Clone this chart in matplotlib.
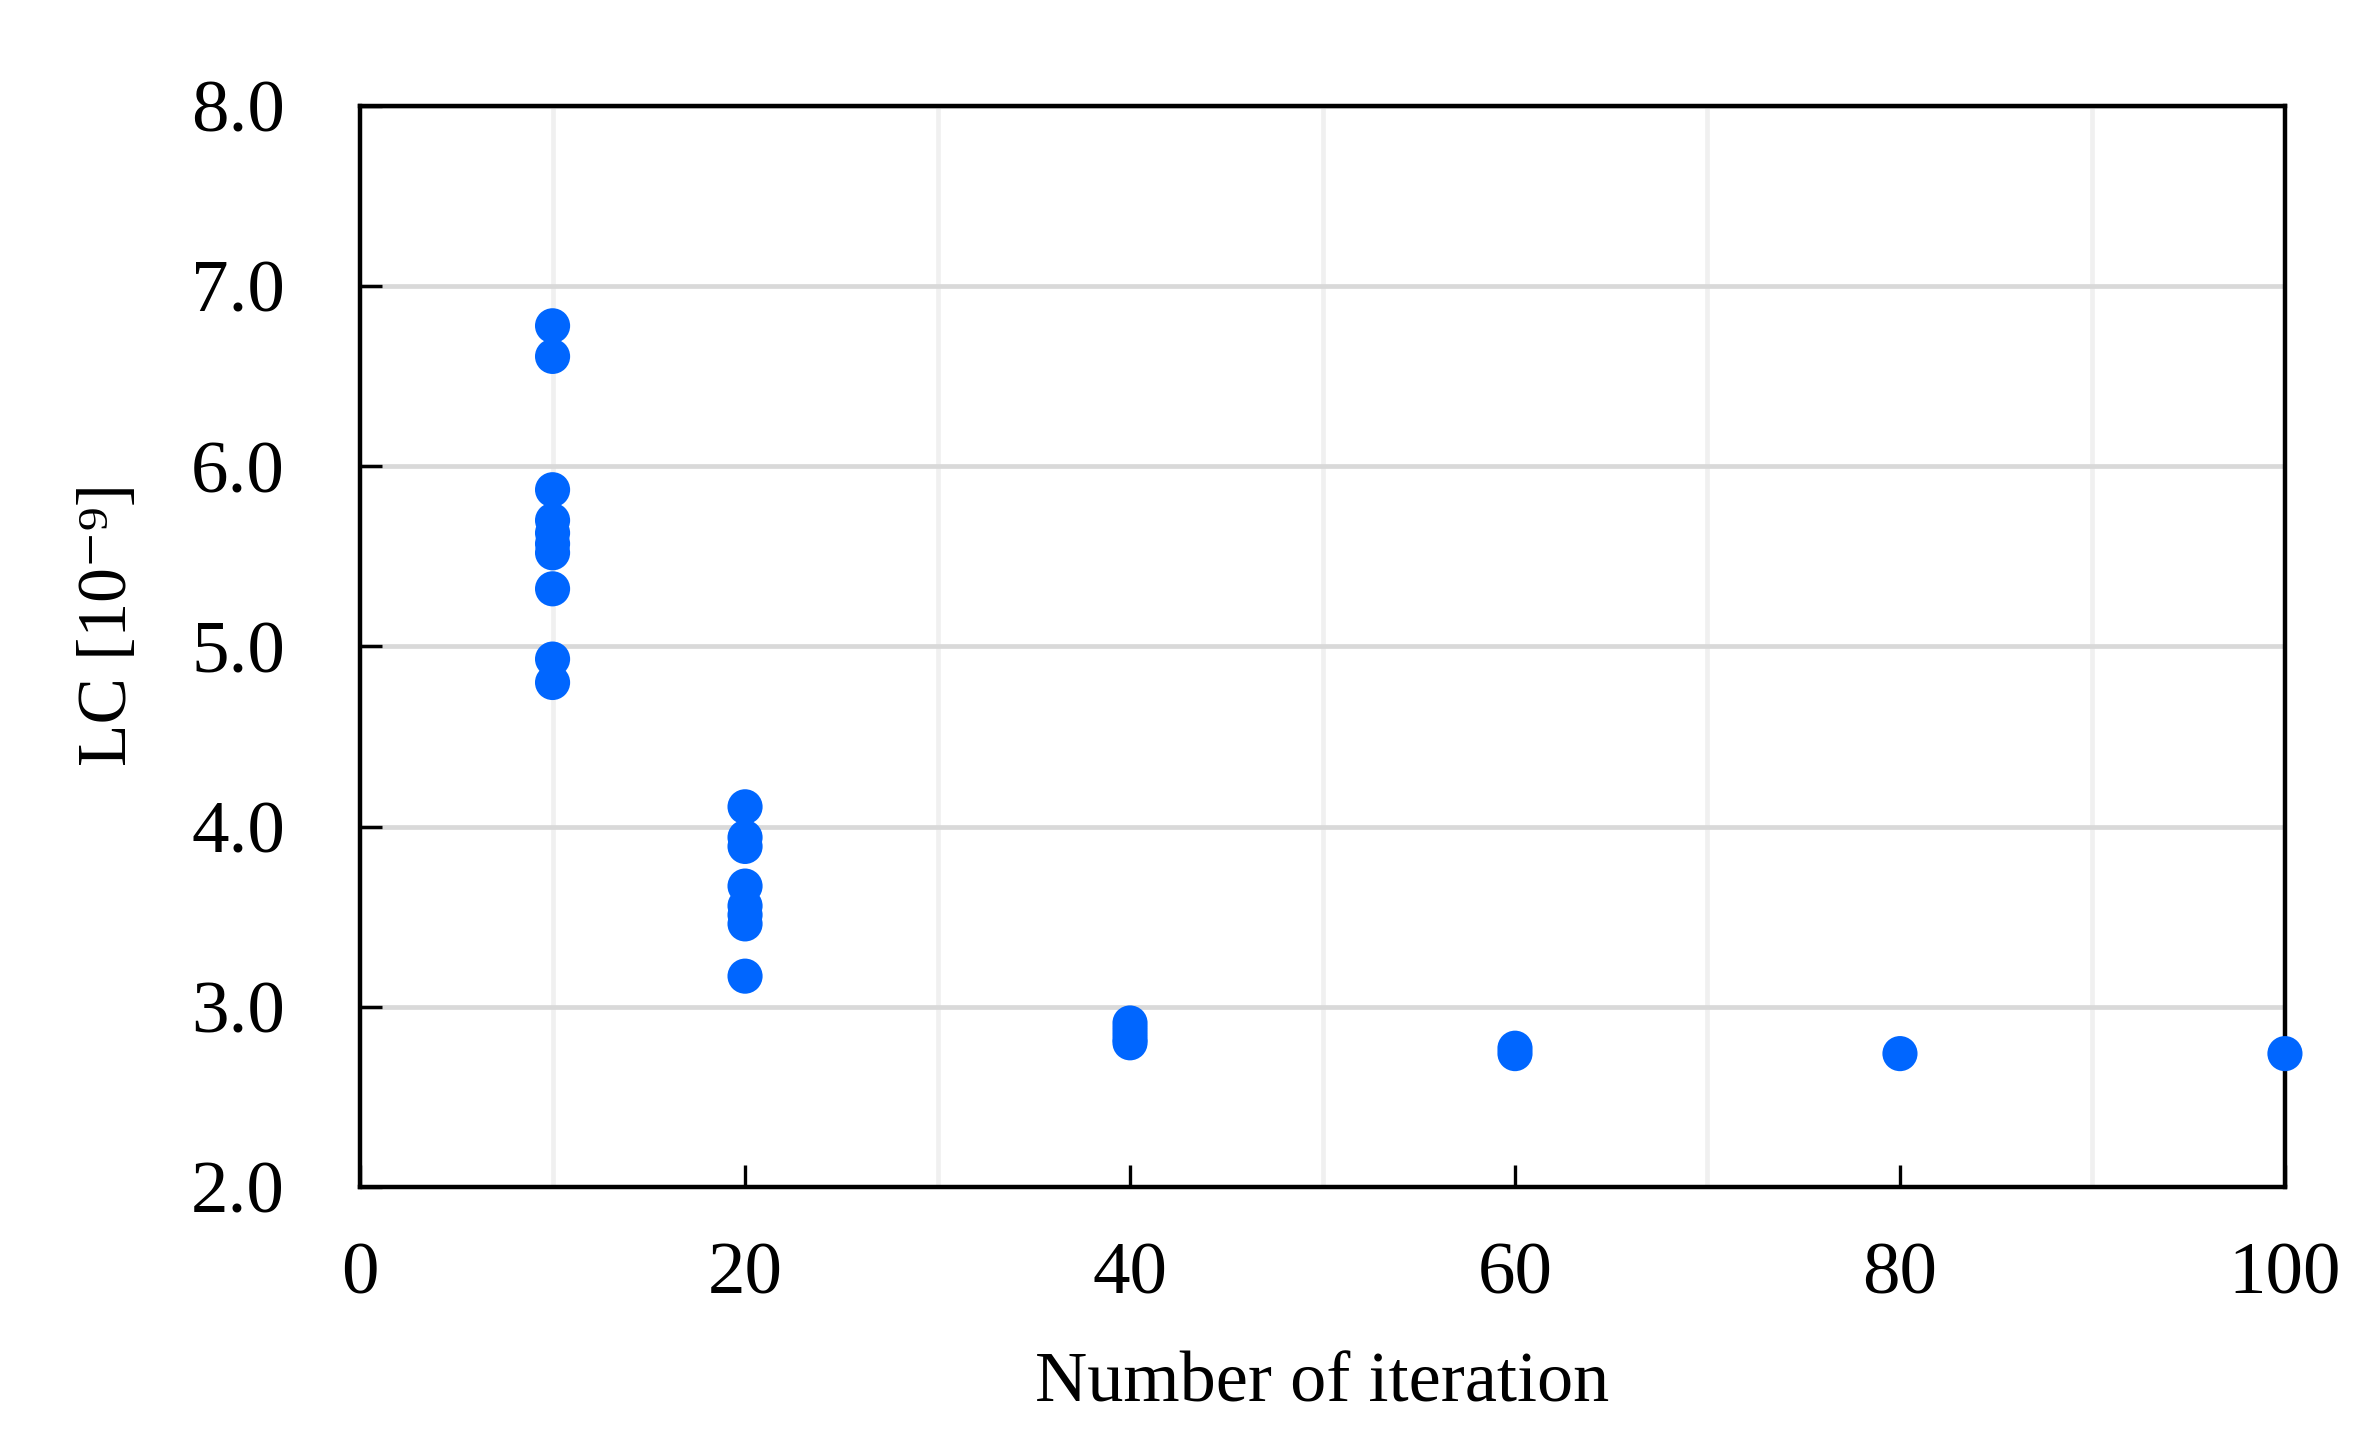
import numpy as np
from matplotlib import pyplot as plt
from matplotlib.ticker import MultipleLocator

# valores
iter10 = [6.78, 6.61, 5.87, 5.70, 5.63, 5.57, 5.52, 5.32, 4.93, 4.80]
iter20 = [4.11, 3.94, 3.89, 3.67, 3.56, 3.51, 3.46, 3.17]
iter40 = [2.91, 2.88, 2.85, 2.82, 2.80]
iter60 = [2.77, 2.74]
iter80 = [2.74]
iter100 = [2.74]

iteracoes = [10, 20, 40, 60, 80, 100]
valores = [iter10, iter20, iter40, iter60, iter80, iter100]

xTicks = [0, 20, 40, 60, 80, 100]
yTicks = [2.0, 3.0, 4.0, 5.0, 6.0, 7.0, 8.0]

plt.rcParams['font.family'] = ['Liberation Serif', 'DejaVu Serif']

def main():
    fig = plt.figure(figsize = (11.86, 7.28), dpi = 200)
    axis = fig.add_axes([0.1518, 0.1848, 0.8115, 0.7424])

    xs = np.concatenate([[it] * len(v) for it, v in zip(iteracoes, valores)])
    ys = np.concatenate(valores)
    axis.scatter(xs, ys, s = 160, color = '#0066ff', edgecolors = 'none', zorder = 5, clip_on = False)

    axis.set_xlim(0, 100)
    axis.set_ylim(2.0, 8.0)
    axis.set_xticks(xTicks)
    axis.set_yticks(yTicks)
    axis.set_yticklabels(['%.1f' % v for v in yTicks])
    axis.xaxis.set_minor_locator(MultipleLocator(10))

    # grades
    axis.grid(True, axis = 'y', which = 'major', color = '#d9d9d9', linewidth = 1.7, zorder = 0)
    axis.grid(True, axis = 'x', which = 'minor', color = '#f0f0f0', linewidth = 1.7, zorder = 0)
    axis.set_axisbelow(True)

    axis.tick_params(axis = 'both', which = 'major', direction = 'in', length = 8, width = 1.2,
                     labelsize = 27, color = 'black')
    axis.tick_params(axis = 'x', which = 'minor', length = 0)
    axis.tick_params(axis = 'x', which = 'major', pad = 20)
    axis.tick_params(axis = 'y', which = 'major', pad = 27)

    for sp in axis.spines.values():
        sp.set_linewidth(1.6)
        sp.set_zorder(4)

    axis.set_xlabel('Number of iteration', fontsize = 26, labelpad = 15)
    ylab = axis.set_ylabel('LC [10\u207b\u2079]', fontsize = 25, labelpad = 18)
    ylab.set_y(0.52)

    fig.savefig('out.png', dpi = 200)

if __name__ == "__main__":
    main()
